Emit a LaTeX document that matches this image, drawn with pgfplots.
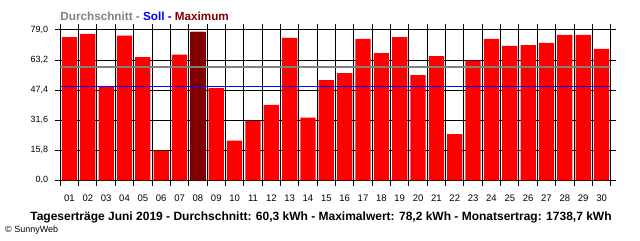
\documentclass[border=0pt]{standalone}
\usepackage{pgfplots}
\pgfplotsset{compat=1.18}
\usepackage{fontspec}
\setmainfont{Liberation Sans}
\definecolor{barred}{HTML}{FF0000}
\definecolor{maxred}{HTML}{800000}
\definecolor{avggray}{HTML}{808080}
\definecolor{sollblue}{HTML}{0000FF}
\begin{document}
\begin{tikzpicture}[x=1bp,y=1bp]
\path[use as bounding box] (0,0) rectangle (640,240);
\begin{axis}[
  at={(60.3bp,59.7bp)}, anchor=south west,
  scale only axis, width=550.4bp, height=150.3bp,
  xmin=0.5, xmax=30.5, ymin=0, ymax=79,
  ytick={0,15.8,31.6,47.4,63.2,79},
  xtick={0.5,1.5,...,30.5},
  xticklabel={\mbox{}},
  extra x ticks={1,...,30},
  extra x tick labels={01,02,03,04,05,06,07,08,09,10,11,12,13,14,15,16,17,18,19,20,21,22,23,24,25,26,27,28,29,30},
  extra x tick style={grid=none, major tick length=0pt, tick label style={anchor=base, inner sep=0pt, yshift=-20.7bp}},
  xmajorgrids, ymajorgrids,
  grid style={black, line width=1bp},
  axis line style={black, line width=1bp},
  tick style={black, line width=1bp},
  tick align=outside,
  major tick length=5.5bp,
  ticklabel style={font=\fontsize{9.5bp}{11bp}\selectfont},
  yticklabel style={anchor=east, inner sep=0pt, xshift=-6.5bp, font=\fontsize{9bp}{11bp}\selectfont,
    /pgf/number format/.cd, fixed, fixed zerofill, precision=1, use comma},
  /pgf/number format/assume math mode=true,
]
\addplot[ybar, bar width=0.83, bar shift=0pt, fill=barred, draw=none] coordinates {
(1,75.3) (2,76.9) (3,49.2) (4,76.0) (5,64.8) (6,15.6) (7,66.0) (8,78.2) (9,48.5) (10,20.8)
(11,31.3) (12,39.6) (13,74.8) (14,33.0) (15,52.7) (16,56.3) (17,74.3) (18,66.9) (19,75.3) (20,55.3)
(21,65.3) (22,24.3) (23,62.9) (24,74.3) (25,70.6) (26,71.1) (27,72.2) (28,76.4) (29,76.4) (30,69.1)};
\addplot[ybar, bar width=0.83, bar shift=0pt, fill=maxred, draw=none] coordinates {(8,78.2)};
\addplot[avggray, line width=1.2bp] coordinates {(0.5,59.6) (30.5,59.6)};
\addplot[sollblue, line width=1.2bp] coordinates {(0.5,49.4) (30.5,49.4)};
\end{axis}
\node[anchor=base west, inner sep=0pt, font=\bfseries\fontsize{11.7bp}{14bp}\selectfont] at (60.3,219.3)
  {\textcolor{avggray}{Durchschnitt -} \textcolor{sollblue}{Soll -} \textcolor{maxred}{Maximum}};
\node[anchor=base, inner sep=0pt, font=\bfseries\fontsize{12bp}{14bp}\selectfont] at (321,19.3)
  {Tageserträge Juni 2019 - Durchschnitt: 60,3 kWh - Maximalwert: 78,2 kWh - Monatsertrag: 1738,7 kWh};
\node[anchor=base west, inner sep=0pt, font=\fontsize{9bp}{11bp}\selectfont] at (5,7.3)
  {\textcopyright\ SunnyWeb};
\end{tikzpicture}
\end{document}
